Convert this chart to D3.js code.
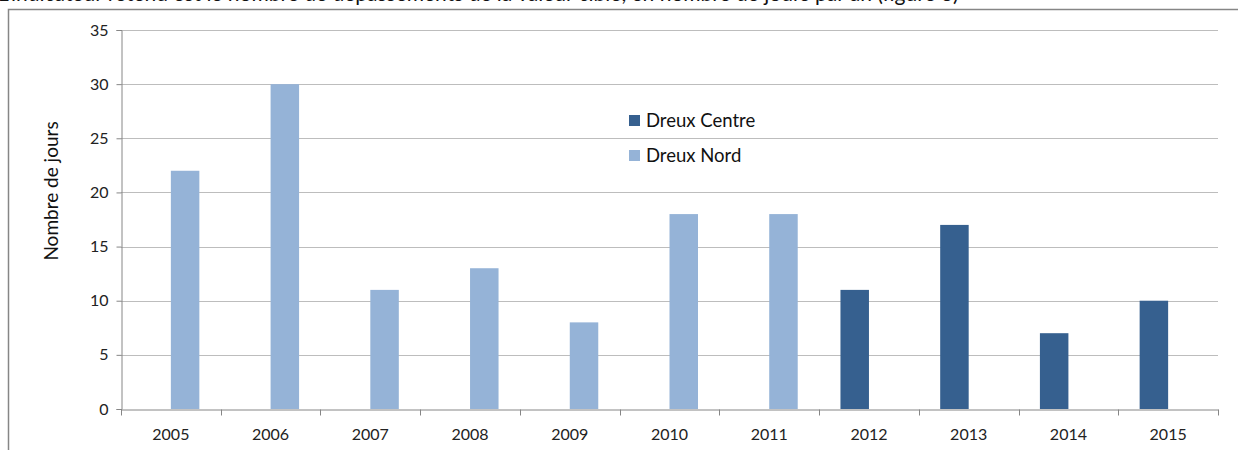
<!DOCTYPE html>
<html>
<head>
<meta charset="utf-8">
<script src="https://cdn.jsdelivr.net/npm/d3@7"></script>
<style>
  body { margin: 0; background: #fff; }
  svg { display: block; font-family: Lato, "Open Sans", sans-serif; }
</style>
</head>
<body>
<svg width="1238" height="450"></svg>
<script>
(function() {
    // data
    var years = ["2005", "2006", "2007", "2008", "2009", "2010", "2011", "2012", "2013", "2014", "2015"];
    var series = ["Dreux Centre", "Dreux Nord"];
    var centreValues = [null, null, null, null, null, null, null, 11, 17, 7, 10];
    var nordValues = [22, 30, 11, 13, 8, 18, 18, null, null, null, null];
    var yTicks = [0, 5, 10, 15, 20, 25, 30, 35];
    var colours = ["#36608f", "#95b3d7"];

    var svg = d3.select('svg');

    // line of text above the chart, cut by the page top as in the source
    svg.append("text")
        .attr("x", -2)
        .attr("y", 1)
        .style("font-size", "21px")
        .style("fill", "#111")
        .text("L'indicateur retenu est le nombre de dépassements de la valeur cible, en nombre de jours par an (figure 6)");

    // chart frame
    svg.append("rect")
        .attr("x", 8.5)
        .attr("y", 9.5)
        .attr("width", 1240)
        .attr("height", 460)
        .style("fill", "#fff")
        .style("stroke", "#868686")
        .style("stroke-width", 1.5);

    var left = 121, right = 1218, top = 30, bottom = 409;

    var x0 = d3.scaleBand().domain(years).range([left, right]).padding(0);
    var x1 = d3.scaleBand().domain(series).range([0, x0.bandwidth()])
        .paddingInner(0).paddingOuter(0.75);
    var y = d3.scaleLinear().domain([0, 35]).range([bottom, top]);

    // gridlines
    svg.append("g")
        .selectAll("line")
        .data(yTicks.filter(function(d) { return d > 0; }))
        .join("line")
        .attr("x1", left)
        .attr("x2", right)
        .attr("y1", function(d) { return Math.round(y(d)) + 0.5; })
        .attr("y2", function(d) { return Math.round(y(d)) + 0.5; })
        .style("stroke", "#bdbdbd")
        .style("stroke-width", 1.2);

    // bars
    var rows = [];
    years.forEach(function(yr, i) {
        if (centreValues[i] != null) rows.push({ year: yr, s: series[0], v: centreValues[i], c: colours[0] });
        if (nordValues[i] != null) rows.push({ year: yr, s: series[1], v: nordValues[i], c: colours[1] });
    });
    svg.append("g")
        .selectAll("rect")
        .data(rows)
        .join("rect")
        .attr("x", function(d) { return x0(d.year) + x1(d.s); })
        .attr("y", function(d) { return y(d.v); })
        .attr("width", x1.bandwidth())
        .attr("height", function(d) { return y(0) - y(d.v); })
        .style("fill", function(d) { return d.c; });

    // y axis
    var yAxis = d3.axisLeft(y).tickValues(yTicks).tickSize(5).tickPadding(8);
    var gy = svg.append("g")
        .attr("transform", "translate(" + (left + 0.5) + ",0)")
        .call(yAxis);
    gy.selectAll("text").style("font-size", "16px").style("fill", "#222")
        .style("font-family", "Lato, sans-serif");

    // x axis with ticks at category boundaries
    var xAxis = d3.axisBottom(x0).tickSize(0).tickPadding(19);
    var gx = svg.append("g")
        .attr("transform", "translate(0," + (bottom + 0.5) + ")")
        .call(xAxis);
    gx.selectAll("text").style("font-size", "16px").style("fill", "#222")
        .style("font-family", "Lato, sans-serif");
    gx.append("g")
        .selectAll("line")
        .data(years.concat(["end"]))
        .join("line")
        .attr("x1", function(d, i) { return Math.round(left + i * x0.step()) + 0.5; })
        .attr("x2", function(d, i) { return Math.round(left + i * x0.step()) + 0.5; })
        .attr("y1", 0)
        .attr("y2", 6)
        .style("stroke", "#868686");

    svg.selectAll(".domain").style("stroke", "#868686");
    svg.selectAll(".tick line").style("stroke", "#868686");

    // y axis title
    svg.append("text")
        .attr("transform", "translate(58,191) rotate(-90)")
        .attr("text-anchor", "middle")
        .style("font-size", "19px")
        .style("fill", "#111")
        .text("Nombre de jours");

    // legend
    var legend = svg.append("g")
        .selectAll("g")
        .data(series)
        .join("g")
        .attr("transform", function(d, i) { return "translate(629," + (115 + i * 35) + ")"; });
    legend.append("rect")
        .attr("width", 11)
        .attr("height", 11)
        .style("fill", function(d, i) { return colours[i]; });
    legend.append("text")
        .attr("x", 17)
        .attr("y", 12)
        .style("font-size", "18.5px")
        .style("fill", "#111")
        .text(function(d) { return d; });
})();
</script>
</body>
</html>
